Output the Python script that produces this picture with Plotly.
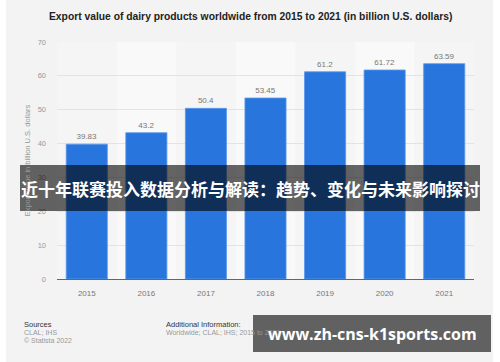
import plotly.graph_objects as go

years = ["2015", "2016", "2017", "2018", "2019", "2020", "2021"]
values = [39.83, 43.2, 50.4, 53.45, 61.2, 61.72, 63.59]
value_labels = ["39.83", "43.2", "50.4", "53.45", "61.2", "61.72", "63.59"]
y_ticks = [0, 10, 20, 30, 40, 50, 60, 70]

title_text = "Export value of dairy products worldwide from 2015 to 2021 (in billion U.S. dollars)"
y_title = "Export value in billion U.S. dollars"
banner_text = "近十年联赛投入数据分析与解读：趋势、变化与未来影响探讨"
url_text = "www.zh-cns-k1sports.com"

W, H = 500, 362
L, R, T, B = 57, 26, 42, 83
pw, ph = W - L - R, H - T - B

def px_x(p):
    return (p - L) / pw

def px_y(p):
    return (H - B - p) / ph

fig = go.Figure()
fig.add_trace(go.Bar(
    x=years, y=values,
    text=value_labels, textposition="outside",
    textfont=dict(size=8, color="#777777", family="Liberation Sans, Arial"),
    marker=dict(color="#2876dd", line=dict(color="#5a97ea", width=0.8)),
    cliponaxis=False,
    hoverinfo="skip",
))

shapes = []
# white edge strips
shapes.append(dict(type="rect", xref="paper", yref="paper", x0=px_x(0), x1=px_x(6), y0=px_y(H), y1=px_y(0),
                   fillcolor="white", line_width=0, layer="below"))
shapes.append(dict(type="rect", xref="paper", yref="paper", x0=px_x(493), x1=px_x(W), y0=px_y(H), y1=px_y(0),
                   fillcolor="white", line_width=0, layer="below"))
# alternating light bands
for i, yv in enumerate(years):
    if i % 2 == 1:
        shapes.append(dict(type="rect", xref="x", yref="paper", x0=i - 0.5, x1=i + 0.5, y0=0, y1=1,
                           fillcolor="#f9f9f9", line_width=0, layer="below"))
# overlay banners
shapes.append(dict(type="rect", xref="paper", yref="paper", x0=px_x(20), x1=px_x(480), y0=px_y(211), y1=px_y(165),
                   fillcolor="rgba(0,0,0,0.6)", line_width=0, layer="above"))
shapes.append(dict(type="rect", xref="paper", yref="paper", x0=px_x(253), x1=px_x(491), y0=px_y(352), y1=px_y(315),
                   fillcolor="rgba(0,0,0,0.6)", line_width=0, layer="above"))

annotations = [
    dict(text=f"<b>{title_text}</b>", xref="paper", yref="paper", x=px_x(250), y=px_y(17),
         showarrow=False, xanchor="center", yanchor="middle",
         font=dict(size=10.3, color="#222222", family="Liberation Sans, Arial")),
    dict(text="Sources", xref="paper", yref="paper", x=px_x(22), y=px_y(324),
         showarrow=False, xanchor="left", yanchor="middle",
         font=dict(size=7.5, color="#333333", family="Liberation Sans, Arial")),
    dict(text="CLAL; IHS", xref="paper", yref="paper", x=px_x(22), y=px_y(332),
         showarrow=False, xanchor="left", yanchor="middle",
         font=dict(size=7, color="#999999", family="Liberation Sans, Arial")),
    dict(text="© Statista 2022", xref="paper", yref="paper", x=px_x(22), y=px_y(340),
         showarrow=False, xanchor="left", yanchor="middle",
         font=dict(size=7, color="#999999", family="Liberation Sans, Arial")),
    dict(text="Additional Information:", xref="paper", yref="paper", x=px_x(164), y=px_y(324),
         showarrow=False, xanchor="left", yanchor="middle",
         font=dict(size=7.5, color="#333333", family="Liberation Sans, Arial")),
    dict(text="Worldwide; CLAL; IHS; 2015 to 2021", xref="paper", yref="paper", x=px_x(164), y=px_y(332),
         showarrow=False, xanchor="left", yanchor="middle",
         font=dict(size=7, color="#999999", family="Liberation Sans, Arial")),
    dict(text=f"<b>{banner_text}</b>", xref="paper", yref="paper", x=px_x(250), y=px_y(188),
         showarrow=False, xanchor="center", yanchor="middle",
         font=dict(size=17, color="white", family="Noto Sans CJK SC")),
    dict(text=f"<b>{url_text}</b>", xref="paper", yref="paper", x=px_x(372), y=px_y(334),
         showarrow=False, xanchor="center", yanchor="middle",
         font=dict(size=16, color="white", family="Open Sans, DejaVu Sans")),
]

fig.update_layout(
    width=W, height=H,
    margin=dict(l=L, r=R, t=T, b=B, pad=0),
    paper_bgcolor="#f3f3f3",
    plot_bgcolor="#f5f5f5",
    showlegend=False,
    bargap=0.31,
    hovermode=False,
    shapes=shapes,
    annotations=annotations,
    xaxis=dict(
        type="category",
        showline=True, linecolor="#666666", linewidth=1,
        ticks="", showgrid=False,
        tickfont=dict(size=8, color="#777777", family="Liberation Sans, Arial"),
        ticklabelstandoff=6,
    ),
    yaxis=dict(
        range=[0, 70], tickvals=y_ticks,
        showgrid=True, gridcolor="#e3e3e3", gridwidth=1,
        zeroline=False, showline=False, ticks="",
        tickfont=dict(size=7.5, color="#999999", family="Liberation Sans, Arial"),
        ticklabelstandoff=10,
        title=dict(text=y_title, font=dict(size=7.5, color="#999999", family="Liberation Sans, Arial"),
                   standoff=6),
    ),
)

fig.write_html("out.html",
               config={"displayModeBar": False},
               post_script="document.body.style.margin='0';document.body.style.padding='0';document.body.style.overflow='hidden';")
